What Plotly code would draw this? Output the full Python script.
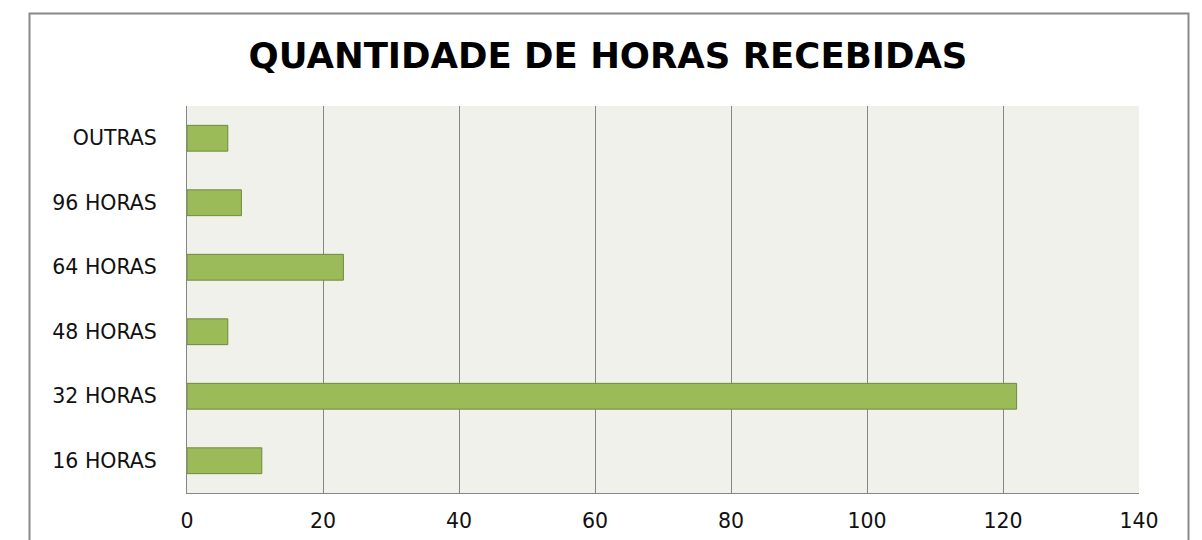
import plotly.graph_objects as go

categories = ["16 HORAS", "32 HORAS", "48 HORAS", "64 HORAS", "96 HORAS", "OUTRAS"]
values = [11, 122, 6, 23, 8, 6]
x_ticks = [0, 20, 40, 60, 80, 100, 120, 140]
title_text = "QUANTIDADE DE HORAS RECEBIDAS"

# page body adds an 8px margin; work in page pixels minus that offset
OFF = 8
W, H = 1202 - OFF, 540 - OFF
L, R, T, B = 187 - OFF, 1139 - OFF, 106 - OFF, 493 - OFF

fig = go.Figure(go.Bar(
    y=categories, x=values, orientation="h",
    marker=dict(color="#9BBB59", line=dict(color="#71893F", width=1)),
))

pw, ph = R - L, B - T
def px_x(p): return (p - OFF - L) / pw
def px_y(p): return (B - (p - OFF)) / ph

label_font = dict(family="DejaVu Sans, sans-serif", size=20.5, color="#111111")

fig.update_layout(
    width=W, height=H,
    margin=dict(l=L, r=W - R, t=T, b=H - B, pad=0, autoexpand=False),
    paper_bgcolor="white", plot_bgcolor="#EFF1EA",
    bargap=0.6, showlegend=False,
    font=label_font,
    title=dict(text="<b>" + title_text + "</b>", xref="container", yref="container",
               x=(608 - OFF) / W, y=1 - (56 - OFF) / H, xanchor="center", yanchor="middle",
               font=dict(family="DejaVu Sans, sans-serif", size=35.5, color="#000000")),
    xaxis=dict(range=[0, 140], tickvals=x_ticks, showgrid=True, gridcolor="#868686",
               gridwidth=1, showline=True, linecolor="#868686", linewidth=1,
               zeroline=False, ticks="", ticklabelstandoff=9, automargin=False,
               tickfont=label_font, fixedrange=True),
    yaxis=dict(showgrid=False, showline=True, linecolor="#868686", linewidth=1,
               ticks="", ticklabelstandoff=25, tickfont=label_font, automargin=False,
               fixedrange=True),
    shapes=[dict(type="rect", xref="paper", yref="paper",
                 x0=px_x(29.5), x1=px_x(1188.5), y0=px_y(620), y1=px_y(13.5),
                 line=dict(color="#8A8A8A", width=2), fillcolor="rgba(0,0,0,0)",
                 layer="below")],
)

fig.write_html("out.html")
